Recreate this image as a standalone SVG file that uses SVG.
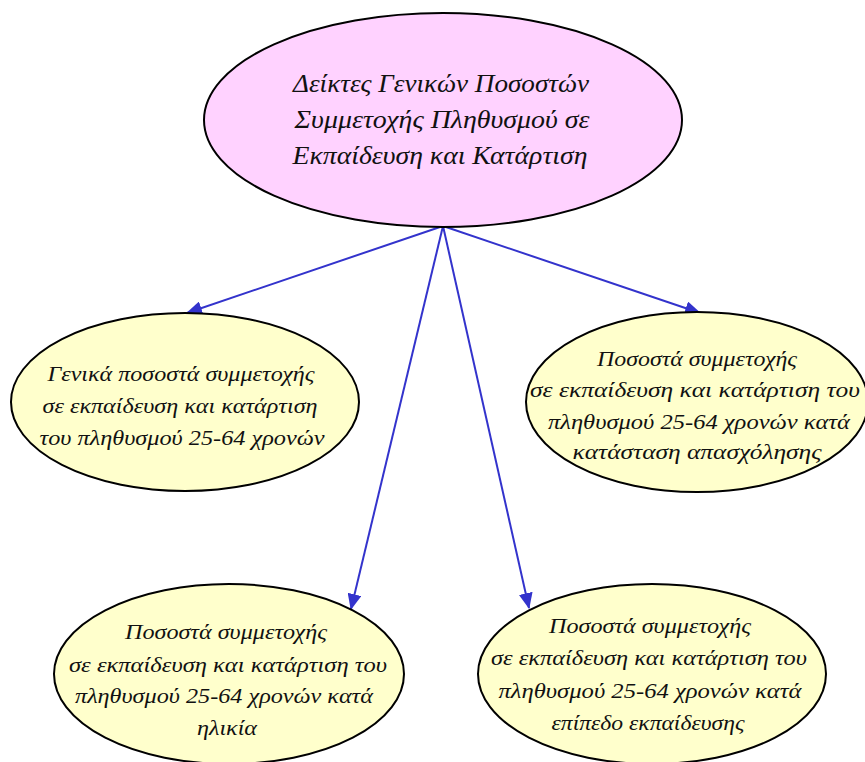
<svg xmlns="http://www.w3.org/2000/svg" width="865" height="762" viewBox="0 0 865 762">
<style>
.node{stroke:#000;stroke-width:2}
.top{fill:#FFD2FF}
.leaf{fill:#FFFFCC}
text{font-family:"Liberation Serif","DejaVu Serif",serif;font-style:italic;fill:#111;text-anchor:middle}
.t1{font-size:26px}
.t2{font-size:22px}
.edge{stroke:#3333CC;stroke-width:2;fill:none}
</style>
<defs>
<marker id="arr" markerUnits="userSpaceOnUse" markerWidth="16" markerHeight="14" refX="15" refY="7" orient="auto">
<path d="M0,0 L16,7 L0,14 Z" fill="#3333CC"/>
</marker>
</defs>
<rect width="865" height="762" fill="#fff"/>
<g id="connectors">
<line class="edge" x1="443" y1="226" x2="187" y2="313" marker-end="url(#arr)"/>
<line class="edge" x1="443" y1="226" x2="700" y2="313" marker-end="url(#arr)"/>
<line class="edge" x1="443" y1="226" x2="351" y2="609" marker-end="url(#arr)"/>
<line class="edge" x1="443" y1="226" x2="529" y2="608" marker-end="url(#arr)"/>
</g>
<g id="root">
<ellipse class="node top" cx="443" cy="120" rx="239" ry="107"/>
<text class="t1" x="441" y="92" textLength="296" lengthAdjust="spacingAndGlyphs">Δείκτες Γενικών Ποσοστών</text>
<text class="t1" x="442" y="128" textLength="295" lengthAdjust="spacingAndGlyphs">Συμμετοχής Πληθυσμού σε</text>
<text class="t1" x="440" y="164" textLength="295" lengthAdjust="spacingAndGlyphs">Εκπαίδευση και Κατάρτιση</text>
</g>
<g id="general">
<ellipse class="node leaf" cx="185" cy="402" rx="174" ry="89"/>
<text class="t2" x="181" y="381" textLength="267" lengthAdjust="spacingAndGlyphs">Γενικά ποσοστά συμμετοχής</text>
<text class="t2" x="180" y="413" textLength="275" lengthAdjust="spacingAndGlyphs">σε εκπαίδευση  και  κατάρτιση</text>
<text class="t2" x="182" y="445" textLength="285" lengthAdjust="spacingAndGlyphs">του πληθυσμού  25-64 χρονών</text>
</g>
<g id="employment">
<ellipse class="node leaf" cx="697" cy="402" rx="171" ry="90"/>
<text class="t2" x="697" y="366" textLength="200" lengthAdjust="spacingAndGlyphs">Ποσοστά συμμετοχής</text>
<text class="t2" x="695" y="397" textLength="330" lengthAdjust="spacingAndGlyphs">σε εκπαίδευση  και  κατάρτιση  του</text>
<text class="t2" x="699" y="429" textLength="302" lengthAdjust="spacingAndGlyphs">πληθυσμού 25-64 χρονών κατά</text>
<text class="t2" x="697" y="459" textLength="249" lengthAdjust="spacingAndGlyphs">κατάσταση απασχόλησης</text>
</g>
<g id="age">
<ellipse class="node leaf" cx="229" cy="674" rx="175" ry="90"/>
<text class="t2" x="226" y="639" textLength="202" lengthAdjust="spacingAndGlyphs">Ποσοστά συμμετοχής</text>
<text class="t2" x="228" y="672" textLength="318" lengthAdjust="spacingAndGlyphs">σε εκπαίδευση  και  κατάρτιση  του</text>
<text class="t2" x="224" y="703" textLength="298" lengthAdjust="spacingAndGlyphs">πληθυσμού 25-64 χρονών κατά</text>
<text class="t2" x="227" y="735" textLength="60" lengthAdjust="spacingAndGlyphs">ηλικία</text>
</g>
<g id="education">
<ellipse class="node leaf" cx="652" cy="674" rx="174" ry="90"/>
<text class="t2" x="650" y="633" textLength="202" lengthAdjust="spacingAndGlyphs">Ποσοστά συμμετοχής</text>
<text class="t2" x="649" y="665" textLength="316" lengthAdjust="spacingAndGlyphs">σε εκπαίδευση  και  κατάρτιση  του</text>
<text class="t2" x="650" y="698" textLength="303" lengthAdjust="spacingAndGlyphs">πληθυσμού 25-64 χρονών κατά</text>
<text class="t2" x="648" y="730" textLength="193" lengthAdjust="spacingAndGlyphs">επίπεδο εκπαίδευσης</text>
</g>
</svg>
